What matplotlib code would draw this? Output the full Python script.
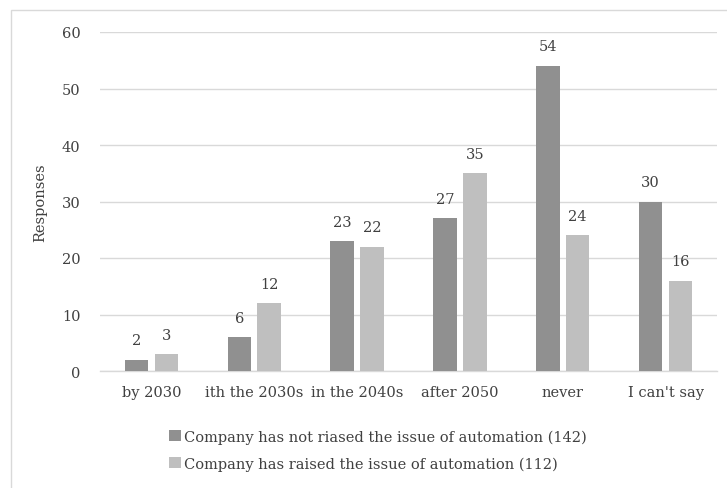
import numpy as np
from matplotlib import pyplot as plt
from matplotlib.patches import Rectangle

categories = ['by 2030', 'ith the 2030s', 'in the 2040s', 'after 2050', 'never', "I can't say"]
not_raised = [2, 6, 23, 27, 54, 30]
raised = [3, 12, 22, 35, 24, 16]
labels = ['Company has not riased the issue of automation (142)',
          'Company has raised the issue of automation (112)']

plt.rcParams['font.family'] = ['DejaVu Serif']
txt = '#404040'
fs = 10.5

fig = plt.figure(figsize=(7.27, 4.89), dpi=100)
ax = fig.add_axes([100 / 727, 1 - 372 / 489, 617 / 727, 339 / 489])

fig.patches.append(Rectangle((11 / 727, -0.05), 1.1, 1 - 11 / 489 + 0.05,
                             transform=fig.transFigure, fill=False,
                             edgecolor='#d9d9d9', linewidth=1))

x = np.arange(len(categories))
w = 0.23
gap = 0.06
b1 = ax.bar(x - (w + gap) / 2, not_raised, w, color='#909090', label=labels[0], zorder=3)
b2 = ax.bar(x + (w + gap) / 2, raised, w, color='#bfbfbf', label=labels[1], zorder=3)

for bars in (b1, b2):
    for r in bars:
        ax.annotate(f'{int(r.get_height())}', (r.get_x() + r.get_width() / 2, r.get_height()),
                    xytext=(0, 9), textcoords='offset points', ha='center', va='bottom',
                    fontsize=fs, color=txt)

ax.set_xlim(-0.5, len(categories) - 0.5)
ax.set_ylim(0, 60)
ax.set_yticks(range(0, 61, 10))
ax.set_xticks(x)
ax.set_xticklabels(categories)
ax.tick_params(axis='both', length=0, labelsize=fs, colors=txt)
ax.tick_params(axis='x', pad=10)
ax.tick_params(axis='y', pad=14)
ax.grid(axis='y', color='#d9d9d9', linewidth=1, zorder=0)
for s in ['top', 'right', 'left']:
    ax.spines[s].set_visible(False)
ax.spines['bottom'].set_color('#d9d9d9')
ax.spines['bottom'].set_linewidth(1)
ax.set_ylabel('Responses', fontsize=fs, color=txt)
ax.yaxis.set_label_coords(-53 / 617, 0.5)

leg = fig.legend(loc='center', bbox_to_anchor=(378 / 727, 1 - 451 / 489), ncol=1,
                 frameon=False, fontsize=fs, handlelength=0.8, handleheight=0.8,
                 handletextpad=0.2, labelspacing=0.85)
for t in leg.get_texts():
    t.set_color(txt)

fig.savefig('out.png', dpi=100)
